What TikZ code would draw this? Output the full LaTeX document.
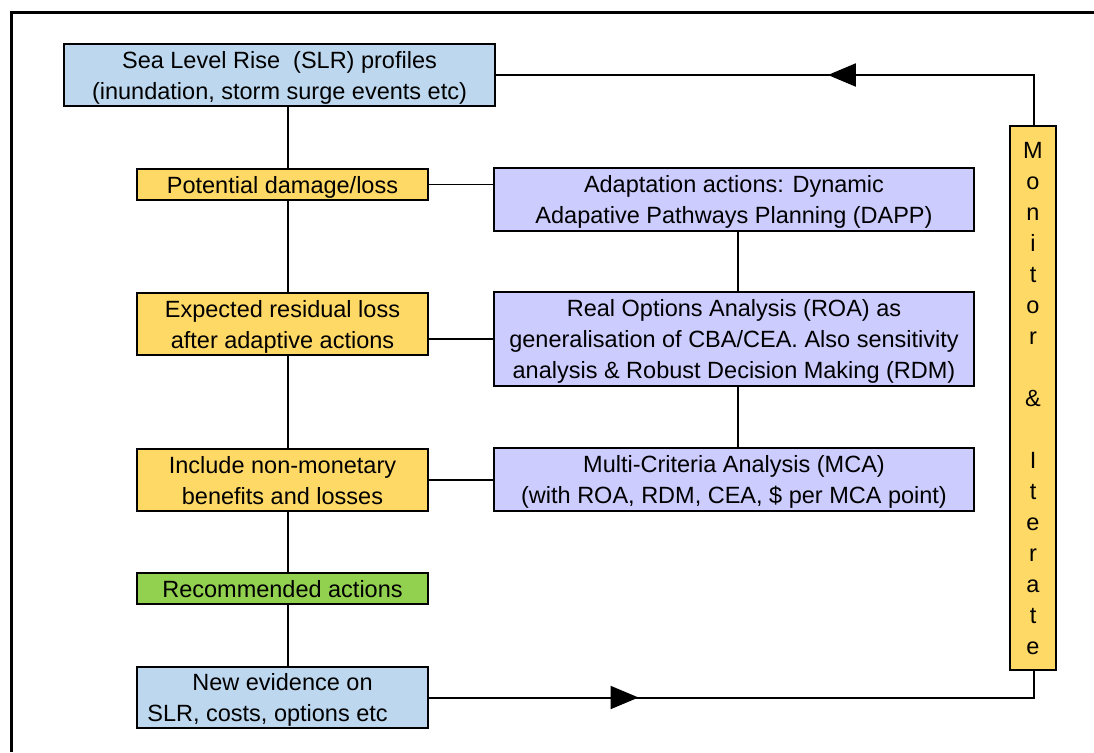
\documentclass[tikz,border=0pt]{standalone}
\usepackage{fontspec}
\setmainfont{Liberation Sans}
\usetikzlibrary{arrows.meta,decorations.markings}
\definecolor{slrblue}{RGB}{189,215,238}
\definecolor{warmyellow}{RGB}{255,217,102}
\definecolor{lilac}{RGB}{204,204,255}
\definecolor{leafgreen}{RGB}{146,208,80}
\tikzset{
  box/.style={draw=black, line width=2pt, inner sep=0pt, align=center,
    font=\fontsize{23.5}{31}\selectfont, text=black, anchor=center, text depth=0pt},
  leftbox/.style={box, minimum width=291pt},
  rightbox/.style={box, fill=lilac, minimum width=480pt},
  conn/.style={draw=black, line width=2pt},
  thinconn/.style={draw=black, line width=1.2pt},
  arrowat/.style={postaction={decorate}, decoration={markings,
      mark=at position #1 with {\arrow{Triangle[length=28pt,width=23pt]}}}}
}
\begin{document}
\begin{tikzpicture}[x=1pt,y=-1pt]
\useasboundingbox (0,0) rectangle (1094,752);
\fill[white] (0,0) rectangle (1094,752);
% frame
\draw[line width=3pt] (11,752) -- (11,13) -- (1094,13);

% left column
\node[box, fill=slrblue, minimum width=431pt, minimum height=62pt] (slr) at (279.5,75)
  {Sea Level Rise~~(SLR) profiles\\(inundation, storm surge events etc)};
\node[leftbox, fill=warmyellow, minimum height=31pt] (pot) at (282.5,184.5) {Potential damage/loss};
\node[leftbox, fill=warmyellow, minimum height=62pt] (exp) at (282.5,324) {Expected residual loss\\after adaptive actions};
\node[leftbox, fill=warmyellow, minimum height=62pt] (inc) at (282.5,480) {Include non-monetary\\benefits and losses};
\node[leftbox, fill=leafgreen, minimum height=31pt] (rec) at (282.5,588.5) {Recommended actions};
\node[leftbox, fill=slrblue, minimum height=61pt] (new) at (282.5,697.5) {New evidence on\\SLR, costs, options etc\hspace*{30pt}};

% right column
\node[rightbox, minimum height=63pt] (dapp) at (734,199.5) {Adaptation actions: Dynamic\\Adapative Pathways Planning (DAPP)};
\node[rightbox, minimum height=94pt] (roa) at (734,339) {Real Options Analysis (ROA) as\\generalisation of CBA/CEA. Also sensitivity\\analysis \& Robust Decision Making (RDM)};
\node[rightbox, minimum height=63pt] (mca) at (734,479.5) {Multi-Criteria Analysis (MCA)\\(with ROA, RDM, CEA, \$ per MCA point)};

% monitor box
\node[box, fill=warmyellow, minimum width=46pt, minimum height=544pt] (mon) at (1033,398)
  {M\\o\\n\\i\\t\\o\\r\\[31pt]\&\\[31pt]I\\t\\e\\r\\a\\t\\e};

\coordinate (spineL) at (288,0);
\coordinate (spineR) at (738,0);
\coordinate (loopx) at (1034,0);

% left spine
\draw[conn] (slr.south -| spineL) -- (pot.north -| spineL);
\draw[conn] (pot.south -| spineL) -- (exp.north -| spineL);
\draw[conn] (exp.south -| spineL) -- (inc.north -| spineL);
\draw[conn] (inc.south -| spineL) -- (rec.north -| spineL);
\draw[conn] (rec.south -| spineL) -- (new.north -| spineL);

% right spine
\draw[conn] (dapp.south -| spineR) -- (roa.north -| spineR);
\draw[conn] (roa.south -| spineR) -- (mca.north -| spineR);

% horizontal links
\draw[thinconn] (pot.east) -- (dapp.west |- pot.east);
\draw[conn] ([yshift=-15pt]exp.east) -- ([yshift=-15pt]exp.east -| roa.west);
\draw[conn] (inc.east) -- (inc.east -| mca.west);

% feedback loop
\draw[conn, arrowat=0.4356] (mon.north -| loopx) |- (slr.east);
\draw[conn, arrowat=0.3318] (new.east) -| (mon.south -| loopx);
\end{tikzpicture}
\end{document}
